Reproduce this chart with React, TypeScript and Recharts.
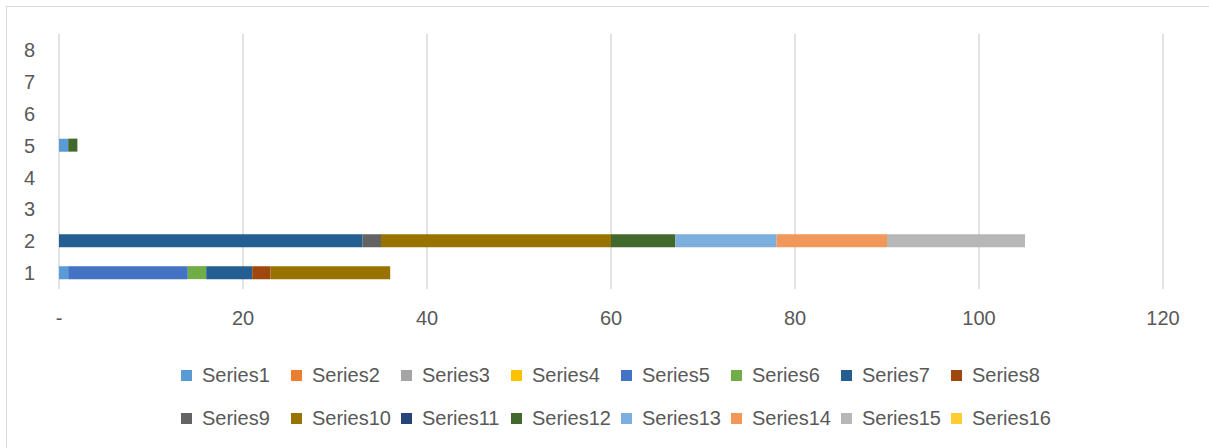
import { BarChart, Bar, XAxis, YAxis, CartesianGrid, Legend } from "recharts";

const categories = ["1", "2", "3", "4", "5", "6", "7", "8"];

const seriesNames = [
    "Series1", "Series2", "Series3", "Series4",
    "Series5", "Series6", "Series7", "Series8",
    "Series9", "Series10", "Series11", "Series12",
    "Series13", "Series14", "Series15", "Series16",
];

const seriesColors = [
    "#5B9BD5", "#ED7D31", "#A5A5A5", "#FFC000",
    "#4472C4", "#70AD47", "#255E91", "#9E480E",
    "#636363", "#997300", "#264478", "#43682B",
    "#7CAFDD", "#F1975A", "#B7B7B7", "#FFCD33",
];

// one array per series, value per category 1..8
const series1 = [1, 0, 0, 0, 1, 0, 0, 0];
const series2 = [0, 0, 0, 0, 0, 0, 0, 0];
const series3 = [0, 0, 0, 0, 0, 0, 0, 0];
const series4 = [0, 0, 0, 0, 0, 0, 0, 0];
const series5 = [13, 0, 0, 0, 0, 0, 0, 0];
const series6 = [2, 0, 0, 0, 0, 0, 0, 0];
const series7 = [5, 33, 0, 0, 0, 0, 0, 0];
const series8 = [2, 0, 0, 0, 0, 0, 0, 0];
const series9 = [0, 2, 0, 0, 0, 0, 0, 0];
const series10 = [13, 25, 0, 0, 0, 0, 0, 0];
const series11 = [0, 0, 0, 0, 0, 0, 0, 0];
const series12 = [0, 7, 0, 0, 1, 0, 0, 0];
const series13 = [0, 11, 0, 0, 0, 0, 0, 0];
const series14 = [0, 12, 0, 0, 0, 0, 0, 0];
const series15 = [0, 15, 0, 0, 0, 0, 0, 0];
const series16 = [0, 0, 0, 0, 0, 0, 0, 0];

const xTicks = [0, 20, 40, 60, 80, 100, 120];

const allSeries = [
    series1, series2, series3, series4, series5, series6, series7, series8,
    series9, series10, series11, series12, series13, series14, series15, series16,
];

const data = categories.map((cat, i) => {
    const row: Record<string, string | number> = { cat };
    seriesNames.forEach((name, s) => {
        row[name] = allSeries[s][i];
    });
    return row;
});

const FONT = "'Liberation Sans', Arial, sans-serif";
const TEXT = "#595959";

function LegendRows() {
    const rows = [seriesNames.slice(0, 8), seriesNames.slice(8)];
    return (
        <div style={{ height: 111, paddingTop: 25, boxSizing: "border-box", paddingLeft: 181 }}>
            {rows.map((row, r) => (
                <div key={r} style={{ display: "flex", height: 43, alignItems: "center" }}>
                    {row.map((name) => {
                        const idx = seriesNames.indexOf(name);
                        return (
                            <div
                                key={name}
                                style={{ width: 110, display: "flex", alignItems: "center" }}
                            >
                                <span
                                    style={{
                                        width: 11,
                                        height: 11,
                                        background: seriesColors[idx],
                                        marginRight: 10,
                                        flexShrink: 0,
                                    }}
                                />
                                <span style={{ fontFamily: FONT, fontSize: 20, color: TEXT, whiteSpace: "nowrap" }}>
                                    {name}
                                </span>
                            </div>
                        );
                    })}
                </div>
            ))}
        </div>
    );
}

export default function App() {
    return (
        <div
            style={{
                position: "absolute",
                left: 0,
                top: 0,
                width: 1209,
                height: 448,
                background: "#fff",
                overflow: "hidden",
            }}
        >
            <div
                style={{
                    position: "absolute",
                    left: 6,
                    top: 6,
                    width: 1300,
                    height: 600,
                    border: "1.5px solid #d9d9d9",
                }}
            />
            <BarChart
                width={1209}
                height={448}
                data={data}
                layout="vertical"
                margin={{ top: 34, right: 46, left: 0, bottom: 8 }}
                barSize={13}
            >
                <CartesianGrid horizontal={false} stroke="#d9d9d9" strokeWidth={1.5} />
                <XAxis
                    type="number"
                    domain={[0, 120]}
                    ticks={xTicks}
                    tickFormatter={(v: number) => (v === 0 ? "-" : String(v))}
                    axisLine={false}
                    tickLine={false}
                    tickSize={0}
                    tickMargin={22}
                    height={40}
                    tick={{ fill: TEXT, fontSize: 20, fontFamily: FONT }}
                />
                <YAxis
                    type="category"
                    dataKey="cat"
                    reversed
                    width={59}
                    axisLine={false}
                    tickLine={false}
                    tickSize={0}
                    tickMargin={24}
                    tick={{ fill: TEXT, fontSize: 20, fontFamily: FONT }}
                />
                {seriesNames.map((name, i) => (
                    <Bar
                        key={name}
                        dataKey={name}
                        stackId="a"
                        fill={seriesColors[i]}
                        isAnimationActive={false}
                    />
                ))}
                <Legend
                    verticalAlign="bottom"
                    content={() => <LegendRows />}
                    wrapperStyle={{ left: 0, width: 1209 }}
                />
            </BarChart>
        </div>
    );
}
